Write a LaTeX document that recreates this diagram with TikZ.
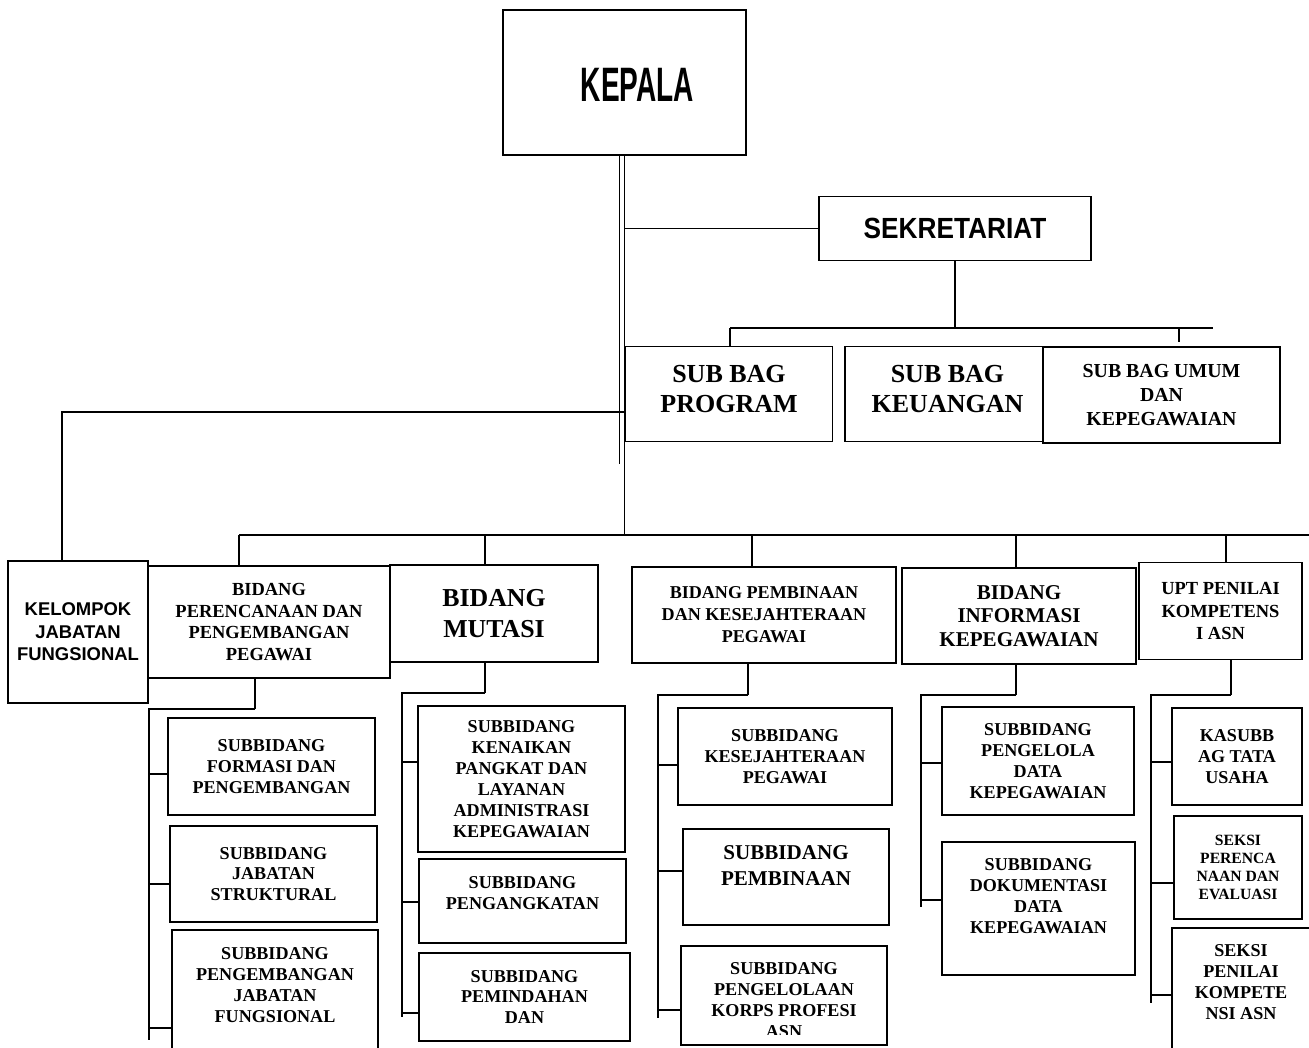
\documentclass[tikz,border=0pt]{standalone}
\usepackage{fontspec}
\setmainfont{Liberation Serif}
\newfontfamily\narrowfont[FakeStretch=0.58]{Liberation Sans}
\newfontfamily\semifont[FakeStretch=0.9]{Liberation Sans}
\newfontfamily\plainsans{Liberation Sans}
\newcommand{\fsz}[2]{\fontsize{#1pt}{#2pt}\selectfont}

\tikzset{
  box/.style={draw, fill=white, line width=1.1pt, align=center, inner sep=1pt, font=\bfseries},
  wh/.style 2 args={minimum width=#1*0.02cm, minimum height=#2*0.02cm},
  link/.style={line width=1.1pt},
  subbox/.style={box, font=\bfseries\fsz{10.3}{11.9}},
  subtext/.style={align=center, inner sep=0pt, font=\bfseries\fsz{10.3}{11.9}}
}

\begin{document}
\begin{tikzpicture}[x=0.02cm, y=-0.02cm]
    \useasboundingbox (0,0) rectangle (1309,1048);

    % Pimpinan
    \node[box, wh={243}{145}] (kepala) at (624.5,82.5) {};
    \node[font=\narrowfont\bfseries\fsz{27.5}{30}, inner sep=0pt] (kepala-t) at (637.5,85) {KEPALA};
    \node[box, wh={272}{64}, font=\semifont\bfseries\fsz{16.6}{19}] (sekr) at (955,228.5) {SEKRETARIAT};

    % Sub bagian sekretariat
    \node[box, wh={207}{95}] (sbprog) at (729,394) {};
    \node[subtext, font=\bfseries\fsz{14.8}{17}] (sbprog-t) at (729,389) {SUB BAG\\PROGRAM};
    \node[box, wh={207}{95}] (sbkeu) at (948.5,394) {};
    \node[subtext, font=\bfseries\fsz{14.8}{17}] (sbkeu-t) at (947.5,389) {SUB BAG\\KEUANGAN};
    \node[box, wh={237}{96}, font=\bfseries\fsz{11.3}{13.6}] (sbumum) at (1161.5,395) {SUB BAG UMUM\\DAN\\KEPEGAWAIAN};

    % Kelompok jabatan fungsional dan bidang
    \node[box, wh={140}{142}, font=\plainsans\bfseries\fsz{10.5}{12.8}] (kelompok) at (78,632) {KELOMPOK\\JABATAN\\FUNGSIONAL};
    \node[box, wh={242}{112}, font=\bfseries\fsz{10.5}{12.2}] (perenc) at (269,622) {BIDANG\\PERENCANAAN DAN\\PENGEMBANGAN\\PEGAWAI};
    \node[box, wh={208}{97}, font=\bfseries\fsz{14.7}{17.6}] (mutasi) at (494,613.5) {BIDANG\\MUTASI};
    \node[box, wh={264}{96}, font=\bfseries\fsz{10.3}{12.5}] (pembin) at (764,615) {BIDANG PEMBINAAN\\DAN KESEJAHTERAAN\\PEGAWAI};
    \node[box, wh={234}{96}, font=\bfseries\fsz{12}{13.3}] (inform) at (1019,616) {BIDANG\\INFORMASI\\KEPEGAWAIAN};
    \node[box, wh={163}{97}, font=\bfseries\fsz{10.5}{12.8}] (upt) at (1220.5,611) {UPT PENILAI\\KOMPETENS\\I ASN};

    % Subbidang perencanaan
    \node[subbox, wh={207}{97}] (sa) at (271.5,766.5) {SUBBIDANG\\FORMASI DAN\\PENGEMBANGAN};
    \node[subbox, wh={207}{96}] (sb) at (273.5,874) {SUBBIDANG\\JABATAN\\STRUKTURAL};
    \node[subbox, wh={206}{150}] (sc) at (275,1005) {};
    \node[subtext] (sc-t) at (275,985) {SUBBIDANG\\PENGEMBANGAN\\JABATAN\\FUNGSIONAL};

    % Subbidang mutasi
    \node[subbox, wh={207}{146}] (ka) at (521.5,779) {SUBBIDANG\\KENAIKAN\\PANGKAT DAN\\LAYANAN\\ADMINISTRASI\\KEPEGAWAIAN};
    \node[subbox, wh={207}{84}] (kb) at (522.5,901) {};
    \node[subtext] (kb-t) at (522.5,893) {SUBBIDANG\\PENGANGKATAN};
    \node[subbox, wh={211}{88}] (kc) at (524.5,997) {SUBBIDANG\\PEMINDAHAN\\DAN};

    % Subbidang pembinaan
    \node[subbox, wh={214}{97}] (kes) at (785,756.5) {SUBBIDANG\\KESEJAHTERAAN\\PEGAWAI};
    \node[subbox, wh={206}{96}] (pem) at (786,877) {};
    \node[subtext, font=\bfseries\fsz{12}{14.3}] (pem-t) at (786,865.5) {SUBBIDANG\\PEMBINAAN};
    \node[subbox, wh={206}{99}] (korps) at (784,995.5) {};
    \begin{scope}
        \clip (681,946) rectangle (887,1034);
        \node[subtext] (korps-t) at (784,1000) {SUBBIDANG\\PENGELOLAAN\\KORPS PROFESI\\ASN};
    \end{scope}

    % Subbidang informasi
    \node[subbox, wh={192}{108}] (peng) at (1038,761) {SUBBIDANG\\PENGELOLA\\DATA\\KEPEGAWAIAN};
    \node[subbox, wh={193}{133}] (dok) at (1038.5,908.5) {};
    \node[subtext] (dok-t) at (1038.5,896) {SUBBIDANG\\DOKUMENTASI\\DATA\\KEPEGAWAIAN};

    % UPT
    \node[subbox, wh={130}{97}] (kasub) at (1237,756.5) {KASUBB\\AG TATA\\USAHA};
    \node[subbox, wh={128}{103}, font=\bfseries\fsz{8.9}{10.4}] (seksi1) at (1238,867.5) {SEKSI\\PERENCA\\NAAN DAN\\EVALUASI};
    \node[subbox, wh={143}{142}] (seksi2) at (1243.5,999) {};
    \node[subtext] (seksi2-t) at (1241,982) {SEKSI\\PENILAI\\KOMPETE\\NSI ASN};

    % Garis komando
    \draw[link] ([xshift=-0.1cm]kepala.south) -- ++(0,308);
    \coordinate (bus) at (239,535);
    \coordinate (busend) at (1309,535);
    \draw[link] (kepala.south) -- (kepala.south |- bus);
    \draw[line width=1.6pt] (bus) -- (busend);
    \foreach \b/\x in {perenc/239, mutasi/485, pembin/752, inform/1016, upt/1226}
        \draw[link] (\x,535) coordinate (t) -- (t |- \b.north);

    \draw[link] (kepala.south |- sekr.west) -- (sekr.west);
    \coordinate (sbus) at (730,328);
    \draw[link] (sekr.south) -- (sekr.south |- sbus);
    \draw[link] (sbus) -- (1213,328);
    \draw[link] (sbus) -- (sbus |- sbprog.north);
    \draw[link] (1179,328) coordinate (t) -- ([yshift=0.08cm]t |- sbumum.north);

    \coordinate (jf) at (62,412);
    \draw[link] (kepala.south |- jf) -- (jf) -- (jf |- kelompok.north);

    % Garis subbidang
    \foreach \b/\x/\y/\r/\e in {perenc/255/709/149/1040, mutasi/485/693/402/1017, pembin/748/695/658/1018, inform/1016/695/921/907, upt/1231/695/1151/1003}
        \draw[link] (\x,\y) coordinate (t) -- (t |- \b.south) (t) -- (\r,\y) -- (\r,\e);
    \foreach \s/\y/\r in {sa/774/149, sb/884/149, sc/1028/149, ka/762/402, kb/902/402, kc/1013/402,
                          kes/765/658, pem/871/658, korps/1010/658, peng/763/921, dok/900/921,
                          kasub/762/1151, seksi1/883/1151, seksi2/995/1151}
        \draw[link] (\r,\y) coordinate (t) -- (t -| \s.west);
\end{tikzpicture}
\end{document}
